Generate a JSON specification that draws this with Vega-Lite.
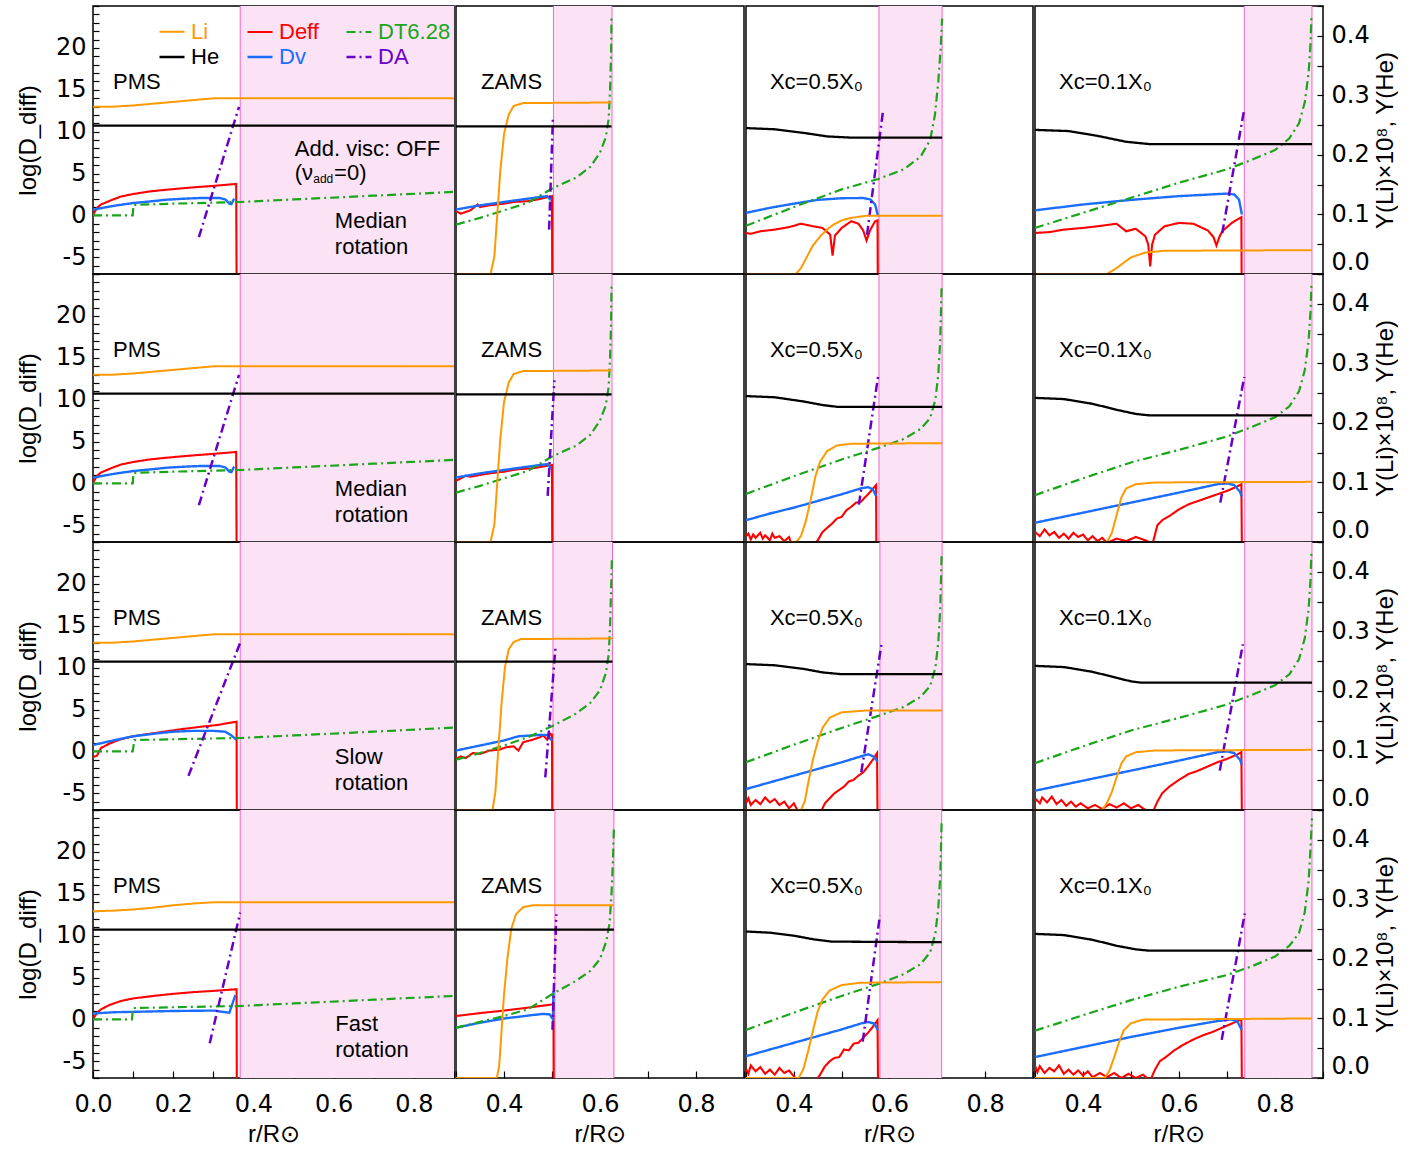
{
"$schema": "https://vega.github.io/schema/vega-lite/v6.json",
"padding": {"left": 15, "top": 4, "right": 0, "bottom": 0},
"config": {
  "font": "Liberation Sans",
  "view": {"stroke": "black", "strokeWidth": 1.5},
  "axis": {"domain": false, "grid": false, "labelFont": "DejaVu Sans", "labelFontSize": 24, "titleFontSize": 24, "titleFontWeight": "normal", "labelColor": "black", "titleColor": "black", "tickColor": "black", "tickWidth": 1.2}
},
"data": {"values": [
{"c":1,"k":1,"s":"zone","r":0.367,"r2":0.9},{"c":1,"k":1,"s":"edge","r":0.367},
{"c":1,"k":1,"s":"Li","r":0,"v":0.281},{"c":1,"k":1,"s":"Li","r":0.05,"v":0.281},{"c":1,"k":1,"s":"Li","r":0.1,"v":0.283},{"c":1,"k":1,"s":"Li","r":0.15,"v":0.286},{"c":1,"k":1,"s":"Li","r":0.2,"v":0.289},{"c":1,"k":1,"s":"Li","r":0.25,"v":0.292},{"c":1,"k":1,"s":"Li","r":0.3,"v":0.295},{"c":1,"k":1,"s":"Li","r":0.35,"v":0.295},{"c":1,"k":1,"s":"Li","r":0.9,"v":0.295},
{"c":1,"k":1,"s":"He","r":0,"v":0.249},{"c":1,"k":1,"s":"He","r":0.9,"v":0.249},
{"c":1,"k":1,"s":"Deff","r":0,"v":0.05},{"c":1,"k":1,"s":"Deff","r":0.01,"v":0.9},{"c":1,"k":1,"s":"Deff","r":0.02,"v":1.3},{"c":1,"k":1,"s":"Deff","r":0.035,"v":1.6},{"c":1,"k":1,"s":"Deff","r":0.05,"v":1.9},{"c":1,"k":1,"s":"Deff","r":0.07,"v":2.25},{"c":1,"k":1,"s":"Deff","r":0.1,"v":2.55},{"c":1,"k":1,"s":"Deff","r":0.14,"v":2.85},{"c":1,"k":1,"s":"Deff","r":0.18,"v":3.05},{"c":1,"k":1,"s":"Deff","r":0.22,"v":3.22},{"c":1,"k":1,"s":"Deff","r":0.26,"v":3.38},{"c":1,"k":1,"s":"Deff","r":0.3,"v":3.52},{"c":1,"k":1,"s":"Deff","r":0.357,"v":3.75},{"c":1,"k":1,"s":"Deff","r":0.358,"v":-8},
{"c":1,"k":1,"s":"Dv","r":0,"v":0.67},{"c":1,"k":1,"s":"Dv","r":0.03,"v":0.95},{"c":1,"k":1,"s":"Dv","r":0.06,"v":1.2},{"c":1,"k":1,"s":"Dv","r":0.1,"v":1.47},{"c":1,"k":1,"s":"Dv","r":0.15,"v":1.7},{"c":1,"k":1,"s":"Dv","r":0.183,"v":1.87},{"c":1,"k":1,"s":"Dv","r":0.23,"v":2.0},{"c":1,"k":1,"s":"Dv","r":0.266,"v":2.07},{"c":1,"k":1,"s":"Dv","r":0.316,"v":2.07},{"c":1,"k":1,"s":"Dv","r":0.33,"v":1.9},{"c":1,"k":1,"s":"Dv","r":0.34,"v":1.4},{"c":1,"k":1,"s":"Dv","r":0.345,"v":1.35},{"c":1,"k":1,"s":"Dv","r":0.352,"v":2.0},
{"c":1,"k":1,"s":"DT6.28","r":0,"v":0},{"c":1,"k":1,"s":"DT6.28","r":0.099,"v":0},{"c":1,"k":1,"s":"DT6.28","r":0.101,"v":1.25},{"c":1,"k":1,"s":"DT6.28","r":0.2,"v":1.4},{"c":1,"k":1,"s":"DT6.28","r":0.367,"v":1.6},{"c":1,"k":1,"s":"DT6.28","r":0.5,"v":1.9},{"c":1,"k":1,"s":"DT6.28","r":0.7,"v":2.35},{"c":1,"k":1,"s":"DT6.28","r":0.9,"v":2.8},
{"c":1,"k":1,"s":"DA","r":0.264,"v":-2.6},{"c":1,"k":1,"s":"DA","r":0.364,"v":12.96},
{"c":1,"k":1,"s":"lab","r":0.05,"v":15.9,"t":"PMS"},{"c":1,"k":1,"s":"lab","r":0.503,"v":7.9,"t":"Add. visc: OFF"},{"c":1,"k":1,"s":"lab","r":0.503,"v":5.1,"t":"(ν"},{"c":1,"k":1,"s":"sub","r":0.549,"v":4.4,"t":"add"},{"c":1,"k":1,"s":"lab","r":0.601,"v":5.1,"t":"=0)"},{"c":1,"k":1,"s":"lab","r":0.603,"v":-0.73,"t":"Median"},{"c":1,"k":1,"s":"lab","r":0.603,"v":-3.73,"t":"rotation"},

{"c":1,"k":2,"s":"zone","r":0.367,"r2":0.9},{"c":1,"k":2,"s":"edge","r":0.367},
{"c":1,"k":2,"s":"Li","r":0,"v":0.281},{"c":1,"k":2,"s":"Li","r":0.05,"v":0.281},{"c":1,"k":2,"s":"Li","r":0.1,"v":0.283},{"c":1,"k":2,"s":"Li","r":0.15,"v":0.286},{"c":1,"k":2,"s":"Li","r":0.2,"v":0.289},{"c":1,"k":2,"s":"Li","r":0.25,"v":0.292},{"c":1,"k":2,"s":"Li","r":0.3,"v":0.295},{"c":1,"k":2,"s":"Li","r":0.35,"v":0.295},{"c":1,"k":2,"s":"Li","r":0.9,"v":0.295},
{"c":1,"k":2,"s":"He","r":0,"v":0.249},{"c":1,"k":2,"s":"He","r":0.9,"v":0.249},
{"c":1,"k":2,"s":"Deff","r":0,"v":0.05},{"c":1,"k":2,"s":"Deff","r":0.01,"v":0.9},{"c":1,"k":2,"s":"Deff","r":0.02,"v":1.3},{"c":1,"k":2,"s":"Deff","r":0.035,"v":1.6},{"c":1,"k":2,"s":"Deff","r":0.05,"v":1.9},{"c":1,"k":2,"s":"Deff","r":0.07,"v":2.25},{"c":1,"k":2,"s":"Deff","r":0.1,"v":2.55},{"c":1,"k":2,"s":"Deff","r":0.14,"v":2.85},{"c":1,"k":2,"s":"Deff","r":0.18,"v":3.05},{"c":1,"k":2,"s":"Deff","r":0.22,"v":3.22},{"c":1,"k":2,"s":"Deff","r":0.26,"v":3.38},{"c":1,"k":2,"s":"Deff","r":0.3,"v":3.52},{"c":1,"k":2,"s":"Deff","r":0.357,"v":3.75},{"c":1,"k":2,"s":"Deff","r":0.358,"v":-8},
{"c":1,"k":2,"s":"Dv","r":0,"v":0.67},{"c":1,"k":2,"s":"Dv","r":0.03,"v":0.95},{"c":1,"k":2,"s":"Dv","r":0.06,"v":1.2},{"c":1,"k":2,"s":"Dv","r":0.1,"v":1.47},{"c":1,"k":2,"s":"Dv","r":0.15,"v":1.7},{"c":1,"k":2,"s":"Dv","r":0.183,"v":1.87},{"c":1,"k":2,"s":"Dv","r":0.23,"v":2.0},{"c":1,"k":2,"s":"Dv","r":0.266,"v":2.07},{"c":1,"k":2,"s":"Dv","r":0.316,"v":2.07},{"c":1,"k":2,"s":"Dv","r":0.33,"v":1.9},{"c":1,"k":2,"s":"Dv","r":0.34,"v":1.4},{"c":1,"k":2,"s":"Dv","r":0.345,"v":1.35},{"c":1,"k":2,"s":"Dv","r":0.352,"v":2.0},
{"c":1,"k":2,"s":"DT6.28","r":0,"v":0},{"c":1,"k":2,"s":"DT6.28","r":0.099,"v":0},{"c":1,"k":2,"s":"DT6.28","r":0.101,"v":1.25},{"c":1,"k":2,"s":"DT6.28","r":0.2,"v":1.4},{"c":1,"k":2,"s":"DT6.28","r":0.367,"v":1.6},{"c":1,"k":2,"s":"DT6.28","r":0.5,"v":1.9},{"c":1,"k":2,"s":"DT6.28","r":0.7,"v":2.35},{"c":1,"k":2,"s":"DT6.28","r":0.9,"v":2.8},
{"c":1,"k":2,"s":"DA","r":0.264,"v":-2.6},{"c":1,"k":2,"s":"DA","r":0.364,"v":12.96},
{"c":1,"k":2,"s":"lab","r":0.05,"v":15.9,"t":"PMS"},{"c":1,"k":2,"s":"lab","r":0.603,"v":-0.73,"t":"Median"},{"c":1,"k":2,"s":"lab","r":0.603,"v":-3.73,"t":"rotation"},

{"c":1,"k":3,"s":"zone","r":0.367,"r2":0.9},{"c":1,"k":3,"s":"edge","r":0.367},
{"c":1,"k":3,"s":"Li","r":0,"v":0.281},{"c":1,"k":3,"s":"Li","r":0.05,"v":0.281},{"c":1,"k":3,"s":"Li","r":0.1,"v":0.283},{"c":1,"k":3,"s":"Li","r":0.15,"v":0.286},{"c":1,"k":3,"s":"Li","r":0.2,"v":0.289},{"c":1,"k":3,"s":"Li","r":0.25,"v":0.292},{"c":1,"k":3,"s":"Li","r":0.3,"v":0.295},{"c":1,"k":3,"s":"Li","r":0.35,"v":0.295},{"c":1,"k":3,"s":"Li","r":0.9,"v":0.295},
{"c":1,"k":3,"s":"He","r":0,"v":0.249},{"c":1,"k":3,"s":"He","r":0.9,"v":0.249},
{"c":1,"k":3,"s":"Deff","r":0,"v":-0.7},{"c":1,"k":3,"s":"Deff","r":0.01,"v":-0.5},{"c":1,"k":3,"s":"Deff","r":0.02,"v":0.4},{"c":1,"k":3,"s":"Deff","r":0.04,"v":0.9},{"c":1,"k":3,"s":"Deff","r":0.06,"v":1.3},{"c":1,"k":3,"s":"Deff","r":0.09,"v":1.7},{"c":1,"k":3,"s":"Deff","r":0.12,"v":1.95},{"c":1,"k":3,"s":"Deff","r":0.17,"v":2.3},{"c":1,"k":3,"s":"Deff","r":0.22,"v":2.65},{"c":1,"k":3,"s":"Deff","r":0.27,"v":2.95},{"c":1,"k":3,"s":"Deff","r":0.31,"v":3.15},{"c":1,"k":3,"s":"Deff","r":0.358,"v":3.55},{"c":1,"k":3,"s":"Deff","r":0.3585,"v":-8},
{"c":1,"k":3,"s":"Dv","r":0,"v":0.75},{"c":1,"k":3,"s":"Dv","r":0.05,"v":1.3},{"c":1,"k":3,"s":"Dv","r":0.1,"v":1.8},{"c":1,"k":3,"s":"Dv","r":0.15,"v":2.1},{"c":1,"k":3,"s":"Dv","r":0.2,"v":2.35},{"c":1,"k":3,"s":"Dv","r":0.25,"v":2.45},{"c":1,"k":3,"s":"Dv","r":0.3,"v":2.45},{"c":1,"k":3,"s":"Dv","r":0.33,"v":2.35},{"c":1,"k":3,"s":"Dv","r":0.345,"v":1.9},{"c":1,"k":3,"s":"Dv","r":0.357,"v":1.4},
{"c":1,"k":3,"s":"DT6.28","r":0,"v":0},{"c":1,"k":3,"s":"DT6.28","r":0.099,"v":0},{"c":1,"k":3,"s":"DT6.28","r":0.103,"v":1.35},{"c":1,"k":3,"s":"DT6.28","r":0.2,"v":1.45},{"c":1,"k":3,"s":"DT6.28","r":0.367,"v":1.6},{"c":1,"k":3,"s":"DT6.28","r":0.5,"v":1.9},{"c":1,"k":3,"s":"DT6.28","r":0.7,"v":2.35},{"c":1,"k":3,"s":"DT6.28","r":0.9,"v":2.85},
{"c":1,"k":3,"s":"DA","r":0.238,"v":-2.93},{"c":1,"k":3,"s":"DA","r":0.368,"v":13.1},
{"c":1,"k":3,"s":"lab","r":0.05,"v":15.9,"t":"PMS"},{"c":1,"k":3,"s":"lab","r":0.603,"v":-0.73,"t":"Slow"},{"c":1,"k":3,"s":"lab","r":0.603,"v":-3.73,"t":"rotation"},

{"c":1,"k":4,"s":"zone","r":0.367,"r2":0.9},{"c":1,"k":4,"s":"edge","r":0.367},
{"c":1,"k":4,"s":"Li","r":0,"v":0.28},{"c":1,"k":4,"s":"Li","r":0.05,"v":0.281},{"c":1,"k":4,"s":"Li","r":0.1,"v":0.283},{"c":1,"k":4,"s":"Li","r":0.15,"v":0.286},{"c":1,"k":4,"s":"Li","r":0.2,"v":0.29},{"c":1,"k":4,"s":"Li","r":0.25,"v":0.293},{"c":1,"k":4,"s":"Li","r":0.3,"v":0.295},{"c":1,"k":4,"s":"Li","r":0.9,"v":0.295},
{"c":1,"k":4,"s":"He","r":0,"v":0.249},{"c":1,"k":4,"s":"He","r":0.9,"v":0.249},
{"c":1,"k":4,"s":"Deff","r":0,"v":0},{"c":1,"k":4,"s":"Deff","r":0.01,"v":0.8},{"c":1,"k":4,"s":"Deff","r":0.02,"v":1.2},{"c":1,"k":4,"s":"Deff","r":0.04,"v":1.7},{"c":1,"k":4,"s":"Deff","r":0.07,"v":2.2},{"c":1,"k":4,"s":"Deff","r":0.1,"v":2.5},{"c":1,"k":4,"s":"Deff","r":0.15,"v":2.8},{"c":1,"k":4,"s":"Deff","r":0.2,"v":3.05},{"c":1,"k":4,"s":"Deff","r":0.25,"v":3.25},{"c":1,"k":4,"s":"Deff","r":0.3,"v":3.4},{"c":1,"k":4,"s":"Deff","r":0.358,"v":3.6},{"c":1,"k":4,"s":"Deff","r":0.3585,"v":-8},
{"c":1,"k":4,"s":"Dv","r":0,"v":0.7},{"c":1,"k":4,"s":"Dv","r":0.05,"v":0.85},{"c":1,"k":4,"s":"Dv","r":0.1,"v":0.9},{"c":1,"k":4,"s":"Dv","r":0.2,"v":1.0},{"c":1,"k":4,"s":"Dv","r":0.3,"v":1.05},{"c":1,"k":4,"s":"Dv","r":0.34,"v":0.8},{"c":1,"k":4,"s":"Dv","r":0.355,"v":2.9},
{"c":1,"k":4,"s":"DT6.28","r":0,"v":0},{"c":1,"k":4,"s":"DT6.28","r":0.097,"v":0},{"c":1,"k":4,"s":"DT6.28","r":0.1,"v":1.35},{"c":1,"k":4,"s":"DT6.28","r":0.2,"v":1.45},{"c":1,"k":4,"s":"DT6.28","r":0.367,"v":1.6},{"c":1,"k":4,"s":"DT6.28","r":0.5,"v":1.9},{"c":1,"k":4,"s":"DT6.28","r":0.7,"v":2.35},{"c":1,"k":4,"s":"DT6.28","r":0.9,"v":2.8},
{"c":1,"k":4,"s":"DA","r":0.291,"v":-2.85},{"c":1,"k":4,"s":"DA","r":0.367,"v":12.75},
{"c":1,"k":4,"s":"lab","r":0.05,"v":15.9,"t":"PMS"},{"c":1,"k":4,"s":"lab","r":0.604,"v":-0.6,"t":"Fast"},{"c":1,"k":4,"s":"lab","r":0.604,"v":-3.65,"t":"rotation"},

{"c":2,"k":1,"s":"zone","r":0.503,"r2":0.625},{"c":2,"k":1,"s":"edge","r":0.503},{"c":2,"k":1,"s":"edge","r":0.625},
{"c":2,"k":1,"s":"Li","r":0.3,"v":0},{"c":2,"k":1,"s":"Li","r":0.372,"v":0},{"c":2,"k":1,"s":"Li","r":0.38,"v":0.03},{"c":2,"k":1,"s":"Li","r":0.386,"v":0.1},{"c":2,"k":1,"s":"Li","r":0.392,"v":0.17},{"c":2,"k":1,"s":"Li","r":0.4,"v":0.235},{"c":2,"k":1,"s":"Li","r":0.41,"v":0.268},{"c":2,"k":1,"s":"Li","r":0.42,"v":0.282},{"c":2,"k":1,"s":"Li","r":0.44,"v":0.287},{"c":2,"k":1,"s":"Li","r":0.624,"v":0.288},
{"c":2,"k":1,"s":"He","r":0.3,"v":0.248},{"c":2,"k":1,"s":"He","r":0.624,"v":0.248},
{"c":2,"k":1,"s":"Deff","r":0.3,"v":0.5},{"c":2,"k":1,"s":"Deff","r":0.31,"v":0.2},{"c":2,"k":1,"s":"Deff","r":0.33,"v":0.6},{"c":2,"k":1,"s":"Deff","r":0.345,"v":1.3},{"c":2,"k":1,"s":"Deff","r":0.35,"v":1.0},{"c":2,"k":1,"s":"Deff","r":0.37,"v":1.2},{"c":2,"k":1,"s":"Deff","r":0.4,"v":1.4},{"c":2,"k":1,"s":"Deff","r":0.42,"v":1.6},{"c":2,"k":1,"s":"Deff","r":0.45,"v":1.7},{"c":2,"k":1,"s":"Deff","r":0.47,"v":1.9},{"c":2,"k":1,"s":"Deff","r":0.5,"v":2.3},{"c":2,"k":1,"s":"Deff","r":0.5005,"v":-8},
{"c":2,"k":1,"s":"Dv","r":0.3,"v":0.7},{"c":2,"k":1,"s":"Dv","r":0.35,"v":1.2},{"c":2,"k":1,"s":"Dv","r":0.4,"v":1.6},{"c":2,"k":1,"s":"Dv","r":0.45,"v":2.0},{"c":2,"k":1,"s":"Dv","r":0.49,"v":2.3},{"c":2,"k":1,"s":"Dv","r":0.498,"v":1.8},
{"c":2,"k":1,"s":"DT6.28","r":0.3,"v":-1.1},{"c":2,"k":1,"s":"DT6.28","r":0.35,"v":-0.3},{"c":2,"k":1,"s":"DT6.28","r":0.4,"v":0.6},{"c":2,"k":1,"s":"DT6.28","r":0.45,"v":1.5},{"c":2,"k":1,"s":"DT6.28","r":0.5,"v":3.2},{"c":2,"k":1,"s":"DT6.28","r":0.55,"v":4.5},{"c":2,"k":1,"s":"DT6.28","r":0.58,"v":5.8},{"c":2,"k":1,"s":"DT6.28","r":0.6,"v":7.5},{"c":2,"k":1,"s":"DT6.28","r":0.612,"v":9.3},{"c":2,"k":1,"s":"DT6.28","r":0.618,"v":11.5},{"c":2,"k":1,"s":"DT6.28","r":0.621,"v":15},{"c":2,"k":1,"s":"DT6.28","r":0.623,"v":19},{"c":2,"k":1,"s":"DT6.28","r":0.624,"v":23.5},
{"c":2,"k":1,"s":"DA","r":0.494,"v":-1.7},{"c":2,"k":1,"s":"DA","r":0.502,"v":11.8},
{"c":2,"k":1,"s":"lab","r":0.352,"v":15.9,"t":"ZAMS"},

{"c":2,"k":2,"s":"zone","r":0.503,"r2":0.625},{"c":2,"k":2,"s":"edge","r":0.503},{"c":2,"k":2,"s":"edge","r":0.625},
{"c":2,"k":2,"s":"Li","r":0.3,"v":0},{"c":2,"k":2,"s":"Li","r":0.372,"v":0},{"c":2,"k":2,"s":"Li","r":0.38,"v":0.03},{"c":2,"k":2,"s":"Li","r":0.386,"v":0.1},{"c":2,"k":2,"s":"Li","r":0.392,"v":0.17},{"c":2,"k":2,"s":"Li","r":0.4,"v":0.235},{"c":2,"k":2,"s":"Li","r":0.41,"v":0.268},{"c":2,"k":2,"s":"Li","r":0.42,"v":0.282},{"c":2,"k":2,"s":"Li","r":0.44,"v":0.287},{"c":2,"k":2,"s":"Li","r":0.624,"v":0.288},
{"c":2,"k":2,"s":"He","r":0.3,"v":0.248},{"c":2,"k":2,"s":"He","r":0.624,"v":0.248},
{"c":2,"k":2,"s":"Deff","r":0.3,"v":0.3},{"c":2,"k":2,"s":"Deff","r":0.31,"v":0.6},{"c":2,"k":2,"s":"Deff","r":0.32,"v":0.9},{"c":2,"k":2,"s":"Deff","r":0.33,"v":0.8},{"c":2,"k":2,"s":"Deff","r":0.35,"v":1.0},{"c":2,"k":2,"s":"Deff","r":0.37,"v":1.2},{"c":2,"k":2,"s":"Deff","r":0.4,"v":1.4},{"c":2,"k":2,"s":"Deff","r":0.43,"v":1.7},{"c":2,"k":2,"s":"Deff","r":0.46,"v":1.8},{"c":2,"k":2,"s":"Deff","r":0.48,"v":2.0},{"c":2,"k":2,"s":"Deff","r":0.5,"v":2.2},{"c":2,"k":2,"s":"Deff","r":0.5005,"v":-8},
{"c":2,"k":2,"s":"Dv","r":0.3,"v":0.7},{"c":2,"k":2,"s":"Dv","r":0.35,"v":1.2},{"c":2,"k":2,"s":"Dv","r":0.4,"v":1.6},{"c":2,"k":2,"s":"Dv","r":0.45,"v":2.0},{"c":2,"k":2,"s":"Dv","r":0.49,"v":2.3},{"c":2,"k":2,"s":"Dv","r":0.498,"v":1.8},
{"c":2,"k":2,"s":"DT6.28","r":0.3,"v":-1.1},{"c":2,"k":2,"s":"DT6.28","r":0.35,"v":-0.3},{"c":2,"k":2,"s":"DT6.28","r":0.4,"v":0.6},{"c":2,"k":2,"s":"DT6.28","r":0.45,"v":1.5},{"c":2,"k":2,"s":"DT6.28","r":0.5,"v":3.2},{"c":2,"k":2,"s":"DT6.28","r":0.55,"v":4.5},{"c":2,"k":2,"s":"DT6.28","r":0.58,"v":5.8},{"c":2,"k":2,"s":"DT6.28","r":0.6,"v":7.5},{"c":2,"k":2,"s":"DT6.28","r":0.612,"v":9.3},{"c":2,"k":2,"s":"DT6.28","r":0.618,"v":11.5},{"c":2,"k":2,"s":"DT6.28","r":0.621,"v":15},{"c":2,"k":2,"s":"DT6.28","r":0.623,"v":19},{"c":2,"k":2,"s":"DT6.28","r":0.624,"v":23.5},
{"c":2,"k":2,"s":"DA","r":0.491,"v":-1.5},{"c":2,"k":2,"s":"DA","r":0.505,"v":12.3},
{"c":2,"k":2,"s":"lab","r":0.352,"v":15.9,"t":"ZAMS"},

{"c":2,"k":3,"s":"zone","r":0.502,"r2":0.626},{"c":2,"k":3,"s":"edge","r":0.502},{"c":2,"k":3,"s":"edge","r":0.626},
{"c":2,"k":3,"s":"Li","r":0.3,"v":0},{"c":2,"k":3,"s":"Li","r":0.376,"v":0},{"c":2,"k":3,"s":"Li","r":0.382,"v":0.03},{"c":2,"k":3,"s":"Li","r":0.388,"v":0.1},{"c":2,"k":3,"s":"Li","r":0.395,"v":0.18},{"c":2,"k":3,"s":"Li","r":0.402,"v":0.24},{"c":2,"k":3,"s":"Li","r":0.41,"v":0.27},{"c":2,"k":3,"s":"Li","r":0.42,"v":0.282},{"c":2,"k":3,"s":"Li","r":0.435,"v":0.287},{"c":2,"k":3,"s":"Li","r":0.626,"v":0.288},
{"c":2,"k":3,"s":"He","r":0.3,"v":0.249},{"c":2,"k":3,"s":"He","r":0.626,"v":0.249},
{"c":2,"k":3,"s":"Deff","r":0.3,"v":-0.9},{"c":2,"k":3,"s":"Deff","r":0.31,"v":-0.6},{"c":2,"k":3,"s":"Deff","r":0.32,"v":-0.8},{"c":2,"k":3,"s":"Deff","r":0.335,"v":-0.2},{"c":2,"k":3,"s":"Deff","r":0.35,"v":-0.3},{"c":2,"k":3,"s":"Deff","r":0.37,"v":0.1},{"c":2,"k":3,"s":"Deff","r":0.39,"v":0.2},{"c":2,"k":3,"s":"Deff","r":0.405,"v":0.5},{"c":2,"k":3,"s":"Deff","r":0.42,"v":0.6},{"c":2,"k":3,"s":"Deff","r":0.43,"v":0.1},{"c":2,"k":3,"s":"Deff","r":0.44,"v":1.1},{"c":2,"k":3,"s":"Deff","r":0.46,"v":1.4},{"c":2,"k":3,"s":"Deff","r":0.475,"v":1.7},{"c":2,"k":3,"s":"Deff","r":0.482,"v":1.9},{"c":2,"k":3,"s":"Deff","r":0.49,"v":1.4},{"c":2,"k":3,"s":"Deff","r":0.497,"v":2.1},{"c":2,"k":3,"s":"Deff","r":0.5,"v":2.0},{"c":2,"k":3,"s":"Deff","r":0.5005,"v":-8},
{"c":2,"k":3,"s":"Dv","r":0.3,"v":0.1},{"c":2,"k":3,"s":"Dv","r":0.35,"v":0.7},{"c":2,"k":3,"s":"Dv","r":0.4,"v":1.3},{"c":2,"k":3,"s":"Dv","r":0.43,"v":1.8},{"c":2,"k":3,"s":"Dv","r":0.47,"v":1.95},{"c":2,"k":3,"s":"Dv","r":0.49,"v":1.95},{"c":2,"k":3,"s":"Dv","r":0.5,"v":1.3},
{"c":2,"k":3,"s":"DT6.28","r":0.3,"v":-1.0},{"c":2,"k":3,"s":"DT6.28","r":0.35,"v":-0.2},{"c":2,"k":3,"s":"DT6.28","r":0.4,"v":0.7},{"c":2,"k":3,"s":"DT6.28","r":0.45,"v":1.7},{"c":2,"k":3,"s":"DT6.28","r":0.5,"v":3.0},{"c":2,"k":3,"s":"DT6.28","r":0.55,"v":4.5},{"c":2,"k":3,"s":"DT6.28","r":0.58,"v":5.8},{"c":2,"k":3,"s":"DT6.28","r":0.6,"v":7.3},{"c":2,"k":3,"s":"DT6.28","r":0.612,"v":9.3},{"c":2,"k":3,"s":"DT6.28","r":0.618,"v":11.5},{"c":2,"k":3,"s":"DT6.28","r":0.621,"v":15},{"c":2,"k":3,"s":"DT6.28","r":0.623,"v":19},{"c":2,"k":3,"s":"DT6.28","r":0.625,"v":23.3},
{"c":2,"k":3,"s":"DA","r":0.486,"v":-3.1},{"c":2,"k":3,"s":"DA","r":0.507,"v":12.3},
{"c":2,"k":3,"s":"lab","r":0.352,"v":15.9,"t":"ZAMS"},

{"c":2,"k":4,"s":"zone","r":0.506,"r2":0.629},{"c":2,"k":4,"s":"edge","r":0.506},{"c":2,"k":4,"s":"edge","r":0.629},
{"c":2,"k":4,"s":"Li","r":0.3,"v":0},{"c":2,"k":4,"s":"Li","r":0.385,"v":0},{"c":2,"k":4,"s":"Li","r":0.39,"v":0.02},{"c":2,"k":4,"s":"Li","r":0.395,"v":0.08},{"c":2,"k":4,"s":"Li","r":0.4,"v":0.14},{"c":2,"k":4,"s":"Li","r":0.407,"v":0.2},{"c":2,"k":4,"s":"Li","r":0.415,"v":0.25},{"c":2,"k":4,"s":"Li","r":0.425,"v":0.275},{"c":2,"k":4,"s":"Li","r":0.44,"v":0.287},{"c":2,"k":4,"s":"Li","r":0.46,"v":0.29},{"c":2,"k":4,"s":"Li","r":0.629,"v":0.29},
{"c":2,"k":4,"s":"He","r":0.3,"v":0.249},{"c":2,"k":4,"s":"He","r":0.629,"v":0.249},
{"c":2,"k":4,"s":"Deff","r":0.3,"v":0.4},{"c":2,"k":4,"s":"Deff","r":0.35,"v":0.75},{"c":2,"k":4,"s":"Deff","r":0.4,"v":1.05},{"c":2,"k":4,"s":"Deff","r":0.45,"v":1.4},{"c":2,"k":4,"s":"Deff","r":0.503,"v":1.8},{"c":2,"k":4,"s":"Deff","r":0.5035,"v":-8},
{"c":2,"k":4,"s":"Dv","r":0.3,"v":-1.0},{"c":2,"k":4,"s":"Dv","r":0.35,"v":-0.4},{"c":2,"k":4,"s":"Dv","r":0.4,"v":0.1},{"c":2,"k":4,"s":"Dv","r":0.45,"v":0.45},{"c":2,"k":4,"s":"Dv","r":0.48,"v":0.65},{"c":2,"k":4,"s":"Dv","r":0.495,"v":0.6},{"c":2,"k":4,"s":"Dv","r":0.502,"v":0.0},{"c":2,"k":4,"s":"Dv","r":0.503,"v":3.4},
{"c":2,"k":4,"s":"DT6.28","r":0.3,"v":-1.0},{"c":2,"k":4,"s":"DT6.28","r":0.35,"v":-0.3},{"c":2,"k":4,"s":"DT6.28","r":0.4,"v":0.4},{"c":2,"k":4,"s":"DT6.28","r":0.45,"v":1.2},{"c":2,"k":4,"s":"DT6.28","r":0.5,"v":3.0},{"c":2,"k":4,"s":"DT6.28","r":0.55,"v":4.6},{"c":2,"k":4,"s":"DT6.28","r":0.58,"v":5.8},{"c":2,"k":4,"s":"DT6.28","r":0.6,"v":7.2},{"c":2,"k":4,"s":"DT6.28","r":0.613,"v":9.3},{"c":2,"k":4,"s":"DT6.28","r":0.62,"v":11.5},{"c":2,"k":4,"s":"DT6.28","r":0.624,"v":15},{"c":2,"k":4,"s":"DT6.28","r":0.627,"v":19},{"c":2,"k":4,"s":"DT6.28","r":0.629,"v":23},
{"c":2,"k":4,"s":"DA","r":0.501,"v":-1.25},{"c":2,"k":4,"s":"DA","r":0.509,"v":12.55},
{"c":2,"k":4,"s":"lab","r":0.352,"v":15.9,"t":"ZAMS"},

{"c":3,"k":1,"s":"zone","r":0.578,"r2":0.71},{"c":3,"k":1,"s":"edge","r":0.578},{"c":3,"k":1,"s":"edge","r":0.71},
{"c":3,"k":1,"s":"He","r":0.3,"v":0.245},{"c":3,"k":1,"s":"He","r":0.36,"v":0.243},{"c":3,"k":1,"s":"He","r":0.42,"v":0.237},{"c":3,"k":1,"s":"He","r":0.47,"v":0.231},{"c":3,"k":1,"s":"He","r":0.52,"v":0.229},{"c":3,"k":1,"s":"He","r":0.71,"v":0.229},
{"c":3,"k":1,"s":"Li","r":0.3,"v":0},{"c":3,"k":1,"s":"Li","r":0.404,"v":0},{"c":3,"k":1,"s":"Li","r":0.415,"v":0.01},{"c":3,"k":1,"s":"Li","r":0.428,"v":0.03},{"c":3,"k":1,"s":"Li","r":0.44,"v":0.048},{"c":3,"k":1,"s":"Li","r":0.456,"v":0.064},{"c":3,"k":1,"s":"Li","r":0.47,"v":0.075},{"c":3,"k":1,"s":"Li","r":0.483,"v":0.083},{"c":3,"k":1,"s":"Li","r":0.5,"v":0.09},{"c":3,"k":1,"s":"Li","r":0.518,"v":0.094},{"c":3,"k":1,"s":"Li","r":0.553,"v":0.098},{"c":3,"k":1,"s":"Li","r":0.71,"v":0.098},
{"c":3,"k":1,"s":"Deff","r":0.3,"v":-2.1},{"c":3,"k":1,"s":"Deff","r":0.31,"v":-2.2},{"c":3,"k":1,"s":"Deff","r":0.33,"v":-1.9},{"c":3,"k":1,"s":"Deff","r":0.36,"v":-1.7},{"c":3,"k":1,"s":"Deff","r":0.39,"v":-1.4},{"c":3,"k":1,"s":"Deff","r":0.415,"v":-1.0},{"c":3,"k":1,"s":"Deff","r":0.44,"v":-1.3},{"c":3,"k":1,"s":"Deff","r":0.46,"v":-1.5},{"c":3,"k":1,"s":"Deff","r":0.476,"v":-2.3},{"c":3,"k":1,"s":"Deff","r":0.481,"v":-4.8},{"c":3,"k":1,"s":"Deff","r":0.486,"v":-2.4},{"c":3,"k":1,"s":"Deff","r":0.5,"v":-1.5},{"c":3,"k":1,"s":"Deff","r":0.52,"v":-0.7},{"c":3,"k":1,"s":"Deff","r":0.535,"v":-1.0},{"c":3,"k":1,"s":"Deff","r":0.545,"v":-1.8},{"c":3,"k":1,"s":"Deff","r":0.552,"v":-3.0},{"c":3,"k":1,"s":"Deff","r":0.56,"v":-1.7},{"c":3,"k":1,"s":"Deff","r":0.57,"v":-0.7},{"c":3,"k":1,"s":"Deff","r":0.575,"v":-0.6},{"c":3,"k":1,"s":"Deff","r":0.5755,"v":-8},
{"c":3,"k":1,"s":"Dv","r":0.3,"v":0.3},{"c":3,"k":1,"s":"Dv","r":0.35,"v":0.9},{"c":3,"k":1,"s":"Dv","r":0.4,"v":1.4},{"c":3,"k":1,"s":"Dv","r":0.45,"v":1.85},{"c":3,"k":1,"s":"Dv","r":0.5,"v":2.05},{"c":3,"k":1,"s":"Dv","r":0.545,"v":2.07},{"c":3,"k":1,"s":"Dv","r":0.56,"v":1.9},{"c":3,"k":1,"s":"Dv","r":0.57,"v":1.3},{"c":3,"k":1,"s":"Dv","r":0.576,"v":-0.1},
{"c":3,"k":1,"s":"DT6.28","r":0.3,"v":-1.25},{"c":3,"k":1,"s":"DT6.28","r":0.4,"v":1.0},{"c":3,"k":1,"s":"DT6.28","r":0.5,"v":3.1},{"c":3,"k":1,"s":"DT6.28","r":0.577,"v":4.35},{"c":3,"k":1,"s":"DT6.28","r":0.63,"v":5.5},{"c":3,"k":1,"s":"DT6.28","r":0.665,"v":7},{"c":3,"k":1,"s":"DT6.28","r":0.685,"v":9},{"c":3,"k":1,"s":"DT6.28","r":0.695,"v":12},{"c":3,"k":1,"s":"DT6.28","r":0.702,"v":16},{"c":3,"k":1,"s":"DT6.28","r":0.707,"v":20},{"c":3,"k":1,"s":"DT6.28","r":0.71,"v":23.5},
{"c":3,"k":1,"s":"DA","r":0.553,"v":-2.33},{"c":3,"k":1,"s":"DA","r":0.587,"v":12.7},
{"c":3,"k":1,"s":"lab","r":0.35,"v":15.9,"t":"Xᴄ=0.5X₀"},

{"c":3,"k":2,"s":"zone","r":0.578,"r2":0.71},{"c":3,"k":2,"s":"edge","r":0.578},{"c":3,"k":2,"s":"edge","r":0.71},
{"c":3,"k":2,"s":"He","r":0.3,"v":0.245},{"c":3,"k":2,"s":"He","r":0.36,"v":0.243},{"c":3,"k":2,"s":"He","r":0.42,"v":0.236},{"c":3,"k":2,"s":"He","r":0.46,"v":0.23},{"c":3,"k":2,"s":"He","r":0.49,"v":0.227},{"c":3,"k":2,"s":"He","r":0.71,"v":0.227},
{"c":3,"k":2,"s":"Li","r":0.3,"v":0},{"c":3,"k":2,"s":"Li","r":0.405,"v":0},{"c":3,"k":2,"s":"Li","r":0.415,"v":0.01},{"c":3,"k":2,"s":"Li","r":0.425,"v":0.035},{"c":3,"k":2,"s":"Li","r":0.435,"v":0.07},{"c":3,"k":2,"s":"Li","r":0.445,"v":0.11},{"c":3,"k":2,"s":"Li","r":0.455,"v":0.135},{"c":3,"k":2,"s":"Li","r":0.47,"v":0.153},{"c":3,"k":2,"s":"Li","r":0.49,"v":0.162},{"c":3,"k":2,"s":"Li","r":0.52,"v":0.165},{"c":3,"k":2,"s":"Li","r":0.71,"v":0.166},
{"c":3,"k":2,"s":"Deff","r":0.3,"v":-6.3},{"c":3,"k":2,"s":"Deff","r":0.305,"v":-6.0},{"c":3,"k":2,"s":"Deff","r":0.31,"v":-6.7},{"c":3,"k":2,"s":"Deff","r":0.315,"v":-6.1},{"c":3,"k":2,"s":"Deff","r":0.32,"v":-6.5},{"c":3,"k":2,"s":"Deff","r":0.33,"v":-5.9},{"c":3,"k":2,"s":"Deff","r":0.335,"v":-6.6},{"c":3,"k":2,"s":"Deff","r":0.34,"v":-6.2},{"c":3,"k":2,"s":"Deff","r":0.35,"v":-6.8},{"c":3,"k":2,"s":"Deff","r":0.355,"v":-6.0},{"c":3,"k":2,"s":"Deff","r":0.36,"v":-6.5},{"c":3,"k":2,"s":"Deff","r":0.37,"v":-6.3},{"c":3,"k":2,"s":"Deff","r":0.38,"v":-6.9},{"c":3,"k":2,"s":"Deff","r":0.39,"v":-6.4},{"c":3,"k":2,"s":"Deff","r":0.395,"v":-7.3},{"c":3,"k":2,"s":"Deff","r":0.44,"v":-7.5},{"c":3,"k":2,"s":"Deff","r":0.45,"v":-6.8},{"c":3,"k":2,"s":"Deff","r":0.46,"v":-5.8},{"c":3,"k":2,"s":"Deff","r":0.47,"v":-5.3},{"c":3,"k":2,"s":"Deff","r":0.48,"v":-4.8},{"c":3,"k":2,"s":"Deff","r":0.49,"v":-4.2},{"c":3,"k":2,"s":"Deff","r":0.5,"v":-4.0},{"c":3,"k":2,"s":"Deff","r":0.51,"v":-3.2},{"c":3,"k":2,"s":"Deff","r":0.52,"v":-2.8},{"c":3,"k":2,"s":"Deff","r":0.53,"v":-2.3},{"c":3,"k":2,"s":"Deff","r":0.54,"v":-2.2},{"c":3,"k":2,"s":"Deff","r":0.55,"v":-1.6},{"c":3,"k":2,"s":"Deff","r":0.56,"v":-1.0},{"c":3,"k":2,"s":"Deff","r":0.572,"v":-0.2},{"c":3,"k":2,"s":"Deff","r":0.5725,"v":-8},
{"c":3,"k":2,"s":"Dv","r":0.3,"v":-4.4},{"c":3,"k":2,"s":"Dv","r":0.35,"v":-3.6},{"c":3,"k":2,"s":"Dv","r":0.4,"v":-2.9},{"c":3,"k":2,"s":"Dv","r":0.45,"v":-2.1},{"c":3,"k":2,"s":"Dv","r":0.5,"v":-1.3},{"c":3,"k":2,"s":"Dv","r":0.54,"v":-0.6},{"c":3,"k":2,"s":"Dv","r":0.555,"v":-0.45},{"c":3,"k":2,"s":"Dv","r":0.565,"v":-0.7},{"c":3,"k":2,"s":"Dv","r":0.572,"v":-1.5},
{"c":3,"k":2,"s":"DT6.28","r":0.3,"v":-1.25},{"c":3,"k":2,"s":"DT6.28","r":0.4,"v":0.85},{"c":3,"k":2,"s":"DT6.28","r":0.5,"v":2.85},{"c":3,"k":2,"s":"DT6.28","r":0.58,"v":4.3},{"c":3,"k":2,"s":"DT6.28","r":0.63,"v":5.3},{"c":3,"k":2,"s":"DT6.28","r":0.665,"v":6.5},{"c":3,"k":2,"s":"DT6.28","r":0.685,"v":7.8},{"c":3,"k":2,"s":"DT6.28","r":0.696,"v":10},{"c":3,"k":2,"s":"DT6.28","r":0.702,"v":13},{"c":3,"k":2,"s":"DT6.28","r":0.706,"v":17},{"c":3,"k":2,"s":"DT6.28","r":0.709,"v":23.5},
{"c":3,"k":2,"s":"DA","r":0.536,"v":-2.53},{"c":3,"k":2,"s":"DA","r":0.576,"v":12.7},
{"c":3,"k":2,"s":"lab","r":0.35,"v":15.9,"t":"Xᴄ=0.5X₀"},

{"c":3,"k":3,"s":"zone","r":0.58,"r2":0.71},{"c":3,"k":3,"s":"edge","r":0.58},{"c":3,"k":3,"s":"edge","r":0.71},
{"c":3,"k":3,"s":"He","r":0.3,"v":0.245},{"c":3,"k":3,"s":"He","r":0.36,"v":0.243},{"c":3,"k":3,"s":"He","r":0.42,"v":0.237},{"c":3,"k":3,"s":"He","r":0.46,"v":0.231},{"c":3,"k":3,"s":"He","r":0.5,"v":0.228},{"c":3,"k":3,"s":"He","r":0.71,"v":0.228},
{"c":3,"k":3,"s":"Li","r":0.3,"v":0},{"c":3,"k":3,"s":"Li","r":0.415,"v":0},{"c":3,"k":3,"s":"Li","r":0.423,"v":0.015},{"c":3,"k":3,"s":"Li","r":0.43,"v":0.045},{"c":3,"k":3,"s":"Li","r":0.44,"v":0.085},{"c":3,"k":3,"s":"Li","r":0.45,"v":0.115},{"c":3,"k":3,"s":"Li","r":0.46,"v":0.138},{"c":3,"k":3,"s":"Li","r":0.475,"v":0.155},{"c":3,"k":3,"s":"Li","r":0.5,"v":0.164},{"c":3,"k":3,"s":"Li","r":0.55,"v":0.167},{"c":3,"k":3,"s":"Li","r":0.71,"v":0.167},
{"c":3,"k":3,"s":"Deff","r":0.3,"v":-6.2},{"c":3,"k":3,"s":"Deff","r":0.305,"v":-5.6},{"c":3,"k":3,"s":"Deff","r":0.31,"v":-6.4},{"c":3,"k":3,"s":"Deff","r":0.32,"v":-5.8},{"c":3,"k":3,"s":"Deff","r":0.33,"v":-6.3},{"c":3,"k":3,"s":"Deff","r":0.34,"v":-5.5},{"c":3,"k":3,"s":"Deff","r":0.35,"v":-6.1},{"c":3,"k":3,"s":"Deff","r":0.36,"v":-5.7},{"c":3,"k":3,"s":"Deff","r":0.37,"v":-6.4},{"c":3,"k":3,"s":"Deff","r":0.38,"v":-6.0},{"c":3,"k":3,"s":"Deff","r":0.39,"v":-6.8},{"c":3,"k":3,"s":"Deff","r":0.4,"v":-6.2},{"c":3,"k":3,"s":"Deff","r":0.41,"v":-7.3},{"c":3,"k":3,"s":"Deff","r":0.455,"v":-7.4},{"c":3,"k":3,"s":"Deff","r":0.465,"v":-6.2},{"c":3,"k":3,"s":"Deff","r":0.475,"v":-5.6},{"c":3,"k":3,"s":"Deff","r":0.485,"v":-5.0},{"c":3,"k":3,"s":"Deff","r":0.495,"v":-4.6},{"c":3,"k":3,"s":"Deff","r":0.505,"v":-4.2},{"c":3,"k":3,"s":"Deff","r":0.515,"v":-3.6},{"c":3,"k":3,"s":"Deff","r":0.525,"v":-3.4},{"c":3,"k":3,"s":"Deff","r":0.535,"v":-2.9},{"c":3,"k":3,"s":"Deff","r":0.545,"v":-2.5},{"c":3,"k":3,"s":"Deff","r":0.555,"v":-1.8},{"c":3,"k":3,"s":"Deff","r":0.565,"v":-1.0},{"c":3,"k":3,"s":"Deff","r":0.574,"v":-0.2},{"c":3,"k":3,"s":"Deff","r":0.575,"v":-8},
{"c":3,"k":3,"s":"Dv","r":0.3,"v":-4.5},{"c":3,"k":3,"s":"Dv","r":0.35,"v":-3.7},{"c":3,"k":3,"s":"Dv","r":0.4,"v":-2.9},{"c":3,"k":3,"s":"Dv","r":0.45,"v":-2.1},{"c":3,"k":3,"s":"Dv","r":0.5,"v":-1.3},{"c":3,"k":3,"s":"Dv","r":0.54,"v":-0.6},{"c":3,"k":3,"s":"Dv","r":0.556,"v":-0.35},{"c":3,"k":3,"s":"Dv","r":0.566,"v":-0.6},{"c":3,"k":3,"s":"Dv","r":0.575,"v":-1.2},
{"c":3,"k":3,"s":"DT6.28","r":0.3,"v":-1.3},{"c":3,"k":3,"s":"DT6.28","r":0.4,"v":0.8},{"c":3,"k":3,"s":"DT6.28","r":0.5,"v":2.8},{"c":3,"k":3,"s":"DT6.28","r":0.58,"v":4.3},{"c":3,"k":3,"s":"DT6.28","r":0.63,"v":5.3},{"c":3,"k":3,"s":"DT6.28","r":0.665,"v":6.5},{"c":3,"k":3,"s":"DT6.28","r":0.685,"v":7.8},{"c":3,"k":3,"s":"DT6.28","r":0.696,"v":10},{"c":3,"k":3,"s":"DT6.28","r":0.702,"v":13},{"c":3,"k":3,"s":"DT6.28","r":0.706,"v":17},{"c":3,"k":3,"s":"DT6.28","r":0.709,"v":23.5},
{"c":3,"k":3,"s":"DA","r":0.541,"v":-2.5},{"c":3,"k":3,"s":"DA","r":0.583,"v":12.7},
{"c":3,"k":3,"s":"lab","r":0.35,"v":15.9,"t":"Xᴄ=0.5X₀"},

{"c":3,"k":4,"s":"zone","r":0.58,"r2":0.709},{"c":3,"k":4,"s":"edge","r":0.58},{"c":3,"k":4,"s":"edge","r":0.709},
{"c":3,"k":4,"s":"He","r":0.3,"v":0.246},{"c":3,"k":4,"s":"He","r":0.35,"v":0.244},{"c":3,"k":4,"s":"He","r":0.4,"v":0.239},{"c":3,"k":4,"s":"He","r":0.44,"v":0.233},{"c":3,"k":4,"s":"He","r":0.48,"v":0.229},{"c":3,"k":4,"s":"He","r":0.709,"v":0.228},
{"c":3,"k":4,"s":"Li","r":0.3,"v":0},{"c":3,"k":4,"s":"Li","r":0.41,"v":0},{"c":3,"k":4,"s":"Li","r":0.42,"v":0.015},{"c":3,"k":4,"s":"Li","r":0.43,"v":0.045},{"c":3,"k":4,"s":"Li","r":0.44,"v":0.08},{"c":3,"k":4,"s":"Li","r":0.45,"v":0.112},{"c":3,"k":4,"s":"Li","r":0.46,"v":0.132},{"c":3,"k":4,"s":"Li","r":0.475,"v":0.147},{"c":3,"k":4,"s":"Li","r":0.5,"v":0.156},{"c":3,"k":4,"s":"Li","r":0.54,"v":0.16},{"c":3,"k":4,"s":"Li","r":0.709,"v":0.161},
{"c":3,"k":4,"s":"Deff","r":0.3,"v":-5.9},{"c":3,"k":4,"s":"Deff","r":0.305,"v":-6.5},{"c":3,"k":4,"s":"Deff","r":0.31,"v":-5.5},{"c":3,"k":4,"s":"Deff","r":0.32,"v":-6.2},{"c":3,"k":4,"s":"Deff","r":0.33,"v":-5.7},{"c":3,"k":4,"s":"Deff","r":0.34,"v":-6.5},{"c":3,"k":4,"s":"Deff","r":0.35,"v":-6.0},{"c":3,"k":4,"s":"Deff","r":0.36,"v":-6.6},{"c":3,"k":4,"s":"Deff","r":0.37,"v":-5.8},{"c":3,"k":4,"s":"Deff","r":0.38,"v":-6.4},{"c":3,"k":4,"s":"Deff","r":0.39,"v":-6.1},{"c":3,"k":4,"s":"Deff","r":0.4,"v":-6.8},{"c":3,"k":4,"s":"Deff","r":0.41,"v":-7.4},{"c":3,"k":4,"s":"Deff","r":0.445,"v":-7.4},{"c":3,"k":4,"s":"Deff","r":0.455,"v":-6.6},{"c":3,"k":4,"s":"Deff","r":0.465,"v":-5.6},{"c":3,"k":4,"s":"Deff","r":0.475,"v":-5.0},{"c":3,"k":4,"s":"Deff","r":0.485,"v":-4.6},{"c":3,"k":4,"s":"Deff","r":0.495,"v":-4.5},{"c":3,"k":4,"s":"Deff","r":0.505,"v":-3.6},{"c":3,"k":4,"s":"Deff","r":0.515,"v":-3.7},{"c":3,"k":4,"s":"Deff","r":0.525,"v":-2.9},{"c":3,"k":4,"s":"Deff","r":0.535,"v":-2.8},{"c":3,"k":4,"s":"Deff","r":0.545,"v":-2.2},{"c":3,"k":4,"s":"Deff","r":0.555,"v":-1.6},{"c":3,"k":4,"s":"Deff","r":0.565,"v":-0.9},{"c":3,"k":4,"s":"Deff","r":0.575,"v":-0.1},{"c":3,"k":4,"s":"Deff","r":0.576,"v":-8},
{"c":3,"k":4,"s":"Dv","r":0.3,"v":-4.4},{"c":3,"k":4,"s":"Dv","r":0.35,"v":-3.6},{"c":3,"k":4,"s":"Dv","r":0.4,"v":-2.8},{"c":3,"k":4,"s":"Dv","r":0.45,"v":-2.0},{"c":3,"k":4,"s":"Dv","r":0.5,"v":-1.2},{"c":3,"k":4,"s":"Dv","r":0.54,"v":-0.5},{"c":3,"k":4,"s":"Dv","r":0.555,"v":-0.3},{"c":3,"k":4,"s":"Dv","r":0.568,"v":-0.5},{"c":3,"k":4,"s":"Dv","r":0.576,"v":-1.3},
{"c":3,"k":4,"s":"DT6.28","r":0.3,"v":-1.25},{"c":3,"k":4,"s":"DT6.28","r":0.4,"v":0.8},{"c":3,"k":4,"s":"DT6.28","r":0.5,"v":2.8},{"c":3,"k":4,"s":"DT6.28","r":0.58,"v":4.3},{"c":3,"k":4,"s":"DT6.28","r":0.63,"v":5.4},{"c":3,"k":4,"s":"DT6.28","r":0.665,"v":6.6},{"c":3,"k":4,"s":"DT6.28","r":0.685,"v":8},{"c":3,"k":4,"s":"DT6.28","r":0.696,"v":10.3},{"c":3,"k":4,"s":"DT6.28","r":0.702,"v":13.3},{"c":3,"k":4,"s":"DT6.28","r":0.706,"v":17},{"c":3,"k":4,"s":"DT6.28","r":0.709,"v":23.5},
{"c":3,"k":4,"s":"DA","r":0.544,"v":-2.65},{"c":3,"k":4,"s":"DA","r":0.58,"v":12.4},
{"c":3,"k":4,"s":"lab","r":0.35,"v":15.9,"t":"Xᴄ=0.5X₀"},

{"c":4,"k":1,"s":"zone","r":0.736,"r2":0.877},{"c":4,"k":1,"s":"edge","r":0.736},{"c":4,"k":1,"s":"edge","r":0.877},
{"c":4,"k":1,"s":"He","r":0.3,"v":0.242},{"c":4,"k":1,"s":"He","r":0.37,"v":0.24},{"c":4,"k":1,"s":"He","r":0.43,"v":0.232},{"c":4,"k":1,"s":"He","r":0.49,"v":0.222},{"c":4,"k":1,"s":"He","r":0.54,"v":0.218},{"c":4,"k":1,"s":"He","r":0.877,"v":0.218},
{"c":4,"k":1,"s":"Li","r":0.3,"v":0},{"c":4,"k":1,"s":"Li","r":0.45,"v":0},{"c":4,"k":1,"s":"Li","r":0.47,"v":0.01},{"c":4,"k":1,"s":"Li","r":0.5,"v":0.028},{"c":4,"k":1,"s":"Li","r":0.53,"v":0.036},{"c":4,"k":1,"s":"Li","r":0.57,"v":0.039},{"c":4,"k":1,"s":"Li","r":0.877,"v":0.04},
{"c":4,"k":1,"s":"Deff","r":0.3,"v":-2.1},{"c":4,"k":1,"s":"Deff","r":0.33,"v":-2.0},{"c":4,"k":1,"s":"Deff","r":0.36,"v":-1.7},{"c":4,"k":1,"s":"Deff","r":0.4,"v":-1.5},{"c":4,"k":1,"s":"Deff","r":0.43,"v":-1.3},{"c":4,"k":1,"s":"Deff","r":0.47,"v":-1.0},{"c":4,"k":1,"s":"Deff","r":0.49,"v":-1.9},{"c":4,"k":1,"s":"Deff","r":0.51,"v":-1.6},{"c":4,"k":1,"s":"Deff","r":0.53,"v":-2.5},{"c":4,"k":1,"s":"Deff","r":0.536,"v":-3.5},{"c":4,"k":1,"s":"Deff","r":0.54,"v":-6.1},{"c":4,"k":1,"s":"Deff","r":0.544,"v":-3.5},{"c":4,"k":1,"s":"Deff","r":0.55,"v":-2.3},{"c":4,"k":1,"s":"Deff","r":0.57,"v":-1.3},{"c":4,"k":1,"s":"Deff","r":0.6,"v":-0.9},{"c":4,"k":1,"s":"Deff","r":0.63,"v":-1.0},{"c":4,"k":1,"s":"Deff","r":0.66,"v":-1.8},{"c":4,"k":1,"s":"Deff","r":0.672,"v":-2.6},{"c":4,"k":1,"s":"Deff","r":0.678,"v":-3.6},{"c":4,"k":1,"s":"Deff","r":0.684,"v":-2.6},{"c":4,"k":1,"s":"Deff","r":0.69,"v":-1.9},{"c":4,"k":1,"s":"Deff","r":0.71,"v":-0.9},{"c":4,"k":1,"s":"Deff","r":0.73,"v":-0.2},{"c":4,"k":1,"s":"Deff","r":0.7305,"v":-8},
{"c":4,"k":1,"s":"Dv","r":0.3,"v":0.6},{"c":4,"k":1,"s":"Dv","r":0.4,"v":1.3},{"c":4,"k":1,"s":"Dv","r":0.5,"v":1.85},{"c":4,"k":1,"s":"Dv","r":0.6,"v":2.3},{"c":4,"k":1,"s":"Dv","r":0.7,"v":2.6},{"c":4,"k":1,"s":"Dv","r":0.715,"v":2.5},{"c":4,"k":1,"s":"Dv","r":0.725,"v":1.9},{"c":4,"k":1,"s":"Dv","r":0.731,"v":0.1},
{"c":4,"k":1,"s":"DT6.28","r":0.3,"v":-1.5},{"c":4,"k":1,"s":"DT6.28","r":0.4,"v":0.3},{"c":4,"k":1,"s":"DT6.28","r":0.5,"v":2.1},{"c":4,"k":1,"s":"DT6.28","r":0.6,"v":3.9},{"c":4,"k":1,"s":"DT6.28","r":0.7,"v":5.5},{"c":4,"k":1,"s":"DT6.28","r":0.75,"v":6.6},{"c":4,"k":1,"s":"DT6.28","r":0.8,"v":7.8},{"c":4,"k":1,"s":"DT6.28","r":0.83,"v":9.2},{"c":4,"k":1,"s":"DT6.28","r":0.85,"v":11},{"c":4,"k":1,"s":"DT6.28","r":0.862,"v":13.5},{"c":4,"k":1,"s":"DT6.28","r":0.87,"v":17},{"c":4,"k":1,"s":"DT6.28","r":0.874,"v":20.5},{"c":4,"k":1,"s":"DT6.28","r":0.876,"v":24},
{"c":4,"k":1,"s":"DA","r":0.69,"v":-2.13},{"c":4,"k":1,"s":"DA","r":0.736,"v":12.7},
{"c":4,"k":1,"s":"lab","r":0.35,"v":15.9,"t":"Xᴄ=0.1X₀"},

{"c":4,"k":2,"s":"zone","r":0.737,"r2":0.877},{"c":4,"k":2,"s":"edge","r":0.737},{"c":4,"k":2,"s":"edge","r":0.877},
{"c":4,"k":2,"s":"He","r":0.3,"v":0.242},{"c":4,"k":2,"s":"He","r":0.36,"v":0.24},{"c":4,"k":2,"s":"He","r":0.42,"v":0.232},{"c":4,"k":2,"s":"He","r":0.47,"v":0.222},{"c":4,"k":2,"s":"He","r":0.51,"v":0.215},{"c":4,"k":2,"s":"He","r":0.54,"v":0.2125},{"c":4,"k":2,"s":"He","r":0.877,"v":0.2125},
{"c":4,"k":2,"s":"Li","r":0.3,"v":0},{"c":4,"k":2,"s":"Li","r":0.45,"v":0},{"c":4,"k":2,"s":"Li","r":0.46,"v":0.015},{"c":4,"k":2,"s":"Li","r":0.47,"v":0.045},{"c":4,"k":2,"s":"Li","r":0.48,"v":0.075},{"c":4,"k":2,"s":"Li","r":0.49,"v":0.09},{"c":4,"k":2,"s":"Li","r":0.51,"v":0.097},{"c":4,"k":2,"s":"Li","r":0.55,"v":0.1},{"c":4,"k":2,"s":"Li","r":0.877,"v":0.101},
{"c":4,"k":2,"s":"Deff","r":0.3,"v":-5.8},{"c":4,"k":2,"s":"Deff","r":0.31,"v":-6.3},{"c":4,"k":2,"s":"Deff","r":0.32,"v":-5.5},{"c":4,"k":2,"s":"Deff","r":0.33,"v":-6.2},{"c":4,"k":2,"s":"Deff","r":0.34,"v":-5.8},{"c":4,"k":2,"s":"Deff","r":0.35,"v":-6.5},{"c":4,"k":2,"s":"Deff","r":0.36,"v":-6.0},{"c":4,"k":2,"s":"Deff","r":0.37,"v":-6.6},{"c":4,"k":2,"s":"Deff","r":0.38,"v":-5.9},{"c":4,"k":2,"s":"Deff","r":0.39,"v":-6.4},{"c":4,"k":2,"s":"Deff","r":0.4,"v":-6.1},{"c":4,"k":2,"s":"Deff","r":0.41,"v":-6.8},{"c":4,"k":2,"s":"Deff","r":0.42,"v":-6.3},{"c":4,"k":2,"s":"Deff","r":0.43,"v":-6.9},{"c":4,"k":2,"s":"Deff","r":0.44,"v":-6.5},{"c":4,"k":2,"s":"Deff","r":0.45,"v":-7.1},{"c":4,"k":2,"s":"Deff","r":0.47,"v":-6.6},{"c":4,"k":2,"s":"Deff","r":0.49,"v":-6.9},{"c":4,"k":2,"s":"Deff","r":0.51,"v":-6.4},{"c":4,"k":2,"s":"Deff","r":0.53,"v":-6.8},{"c":4,"k":2,"s":"Deff","r":0.545,"v":-7.2},{"c":4,"k":2,"s":"Deff","r":0.555,"v":-5.0},{"c":4,"k":2,"s":"Deff","r":0.565,"v":-4.4},{"c":4,"k":2,"s":"Deff","r":0.58,"v":-3.9},{"c":4,"k":2,"s":"Deff","r":0.6,"v":-3.1},{"c":4,"k":2,"s":"Deff","r":0.62,"v":-2.5},{"c":4,"k":2,"s":"Deff","r":0.64,"v":-2.1},{"c":4,"k":2,"s":"Deff","r":0.66,"v":-1.7},{"c":4,"k":2,"s":"Deff","r":0.68,"v":-1.3},{"c":4,"k":2,"s":"Deff","r":0.7,"v":-0.9},{"c":4,"k":2,"s":"Deff","r":0.72,"v":-0.4},{"c":4,"k":2,"s":"Deff","r":0.73,"v":-0.1},{"c":4,"k":2,"s":"Deff","r":0.731,"v":-8},
{"c":4,"k":2,"s":"Dv","r":0.3,"v":-4.7},{"c":4,"k":2,"s":"Dv","r":0.4,"v":-3.5},{"c":4,"k":2,"s":"Dv","r":0.5,"v":-2.3},{"c":4,"k":2,"s":"Dv","r":0.6,"v":-1.1},{"c":4,"k":2,"s":"Dv","r":0.68,"v":-0.1},{"c":4,"k":2,"s":"Dv","r":0.7,"v":0.0},{"c":4,"k":2,"s":"Dv","r":0.715,"v":-0.2},{"c":4,"k":2,"s":"Dv","r":0.727,"v":-1.0},{"c":4,"k":2,"s":"Dv","r":0.731,"v":-1.6},
{"c":4,"k":2,"s":"DT6.28","r":0.3,"v":-1.4},{"c":4,"k":2,"s":"DT6.28","r":0.4,"v":0.6},{"c":4,"k":2,"s":"DT6.28","r":0.5,"v":2.5},{"c":4,"k":2,"s":"DT6.28","r":0.6,"v":4.0},{"c":4,"k":2,"s":"DT6.28","r":0.7,"v":5.6},{"c":4,"k":2,"s":"DT6.28","r":0.75,"v":6.7},{"c":4,"k":2,"s":"DT6.28","r":0.8,"v":7.9},{"c":4,"k":2,"s":"DT6.28","r":0.83,"v":9.2},{"c":4,"k":2,"s":"DT6.28","r":0.85,"v":11},{"c":4,"k":2,"s":"DT6.28","r":0.862,"v":13.5},{"c":4,"k":2,"s":"DT6.28","r":0.87,"v":17},{"c":4,"k":2,"s":"DT6.28","r":0.874,"v":20.5},{"c":4,"k":2,"s":"DT6.28","r":0.876,"v":24},
{"c":4,"k":2,"s":"DA","r":0.686,"v":-2.3},{"c":4,"k":2,"s":"DA","r":0.736,"v":12.7},
{"c":4,"k":2,"s":"lab","r":0.35,"v":15.9,"t":"Xᴄ=0.1X₀"},

{"c":4,"k":3,"s":"zone","r":0.737,"r2":0.877},{"c":4,"k":3,"s":"edge","r":0.737},{"c":4,"k":3,"s":"edge","r":0.877},
{"c":4,"k":3,"s":"He","r":0.3,"v":0.242},{"c":4,"k":3,"s":"He","r":0.36,"v":0.24},{"c":4,"k":3,"s":"He","r":0.42,"v":0.232},{"c":4,"k":3,"s":"He","r":0.47,"v":0.222},{"c":4,"k":3,"s":"He","r":0.5,"v":0.216},{"c":4,"k":3,"s":"He","r":0.52,"v":0.214},{"c":4,"k":3,"s":"He","r":0.877,"v":0.214},
{"c":4,"k":3,"s":"Li","r":0.3,"v":0},{"c":4,"k":3,"s":"Li","r":0.44,"v":0},{"c":4,"k":3,"s":"Li","r":0.45,"v":0.012},{"c":4,"k":3,"s":"Li","r":0.46,"v":0.03},{"c":4,"k":3,"s":"Li","r":0.47,"v":0.055},{"c":4,"k":3,"s":"Li","r":0.48,"v":0.078},{"c":4,"k":3,"s":"Li","r":0.49,"v":0.09},{"c":4,"k":3,"s":"Li","r":0.51,"v":0.097},{"c":4,"k":3,"s":"Li","r":0.55,"v":0.1},{"c":4,"k":3,"s":"Li","r":0.877,"v":0.101},
{"c":4,"k":3,"s":"Deff","r":0.3,"v":-5.6},{"c":4,"k":3,"s":"Deff","r":0.31,"v":-6.2},{"c":4,"k":3,"s":"Deff","r":0.315,"v":-5.5},{"c":4,"k":3,"s":"Deff","r":0.325,"v":-6.1},{"c":4,"k":3,"s":"Deff","r":0.335,"v":-5.4},{"c":4,"k":3,"s":"Deff","r":0.345,"v":-6.3},{"c":4,"k":3,"s":"Deff","r":0.355,"v":-5.8},{"c":4,"k":3,"s":"Deff","r":0.365,"v":-6.5},{"c":4,"k":3,"s":"Deff","r":0.375,"v":-6.0},{"c":4,"k":3,"s":"Deff","r":0.385,"v":-6.6},{"c":4,"k":3,"s":"Deff","r":0.395,"v":-6.2},{"c":4,"k":3,"s":"Deff","r":0.41,"v":-6.8},{"c":4,"k":3,"s":"Deff","r":0.425,"v":-6.4},{"c":4,"k":3,"s":"Deff","r":0.44,"v":-6.9},{"c":4,"k":3,"s":"Deff","r":0.455,"v":-6.3},{"c":4,"k":3,"s":"Deff","r":0.47,"v":-6.7},{"c":4,"k":3,"s":"Deff","r":0.485,"v":-6.2},{"c":4,"k":3,"s":"Deff","r":0.5,"v":-6.8},{"c":4,"k":3,"s":"Deff","r":0.515,"v":-6.4},{"c":4,"k":3,"s":"Deff","r":0.53,"v":-7.0},{"c":4,"k":3,"s":"Deff","r":0.545,"v":-7.3},{"c":4,"k":3,"s":"Deff","r":0.555,"v":-6.0},{"c":4,"k":3,"s":"Deff","r":0.565,"v":-5.0},{"c":4,"k":3,"s":"Deff","r":0.58,"v":-4.2},{"c":4,"k":3,"s":"Deff","r":0.6,"v":-3.4},{"c":4,"k":3,"s":"Deff","r":0.62,"v":-2.7},{"c":4,"k":3,"s":"Deff","r":0.64,"v":-2.3},{"c":4,"k":3,"s":"Deff","r":0.66,"v":-1.8},{"c":4,"k":3,"s":"Deff","r":0.68,"v":-1.3},{"c":4,"k":3,"s":"Deff","r":0.7,"v":-0.9},{"c":4,"k":3,"s":"Deff","r":0.72,"v":-0.4},{"c":4,"k":3,"s":"Deff","r":0.73,"v":-0.1},{"c":4,"k":3,"s":"Deff","r":0.731,"v":-8},
{"c":4,"k":3,"s":"Dv","r":0.3,"v":-4.7},{"c":4,"k":3,"s":"Dv","r":0.4,"v":-3.5},{"c":4,"k":3,"s":"Dv","r":0.5,"v":-2.3},{"c":4,"k":3,"s":"Dv","r":0.6,"v":-1.1},{"c":4,"k":3,"s":"Dv","r":0.68,"v":-0.1},{"c":4,"k":3,"s":"Dv","r":0.7,"v":0.0},{"c":4,"k":3,"s":"Dv","r":0.715,"v":-0.2},{"c":4,"k":3,"s":"Dv","r":0.727,"v":-1.0},{"c":4,"k":3,"s":"Dv","r":0.731,"v":-1.6},
{"c":4,"k":3,"s":"DT6.28","r":0.3,"v":-1.4},{"c":4,"k":3,"s":"DT6.28","r":0.4,"v":0.6},{"c":4,"k":3,"s":"DT6.28","r":0.5,"v":2.5},{"c":4,"k":3,"s":"DT6.28","r":0.6,"v":4.0},{"c":4,"k":3,"s":"DT6.28","r":0.7,"v":5.6},{"c":4,"k":3,"s":"DT6.28","r":0.75,"v":6.7},{"c":4,"k":3,"s":"DT6.28","r":0.8,"v":7.9},{"c":4,"k":3,"s":"DT6.28","r":0.83,"v":9.2},{"c":4,"k":3,"s":"DT6.28","r":0.85,"v":11},{"c":4,"k":3,"s":"DT6.28","r":0.862,"v":13.5},{"c":4,"k":3,"s":"DT6.28","r":0.87,"v":17},{"c":4,"k":3,"s":"DT6.28","r":0.874,"v":20.5},{"c":4,"k":3,"s":"DT6.28","r":0.876,"v":24},
{"c":4,"k":3,"s":"DA","r":0.685,"v":-2.3},{"c":4,"k":3,"s":"DA","r":0.733,"v":12.8},
{"c":4,"k":3,"s":"lab","r":0.35,"v":15.9,"t":"Xᴄ=0.1X₀"},

{"c":4,"k":4,"s":"zone","r":0.737,"r2":0.877},{"c":4,"k":4,"s":"edge","r":0.737},{"c":4,"k":4,"s":"edge","r":0.877},
{"c":4,"k":4,"s":"He","r":0.3,"v":0.242},{"c":4,"k":4,"s":"He","r":0.36,"v":0.24},{"c":4,"k":4,"s":"He","r":0.42,"v":0.232},{"c":4,"k":4,"s":"He","r":0.47,"v":0.222},{"c":4,"k":4,"s":"He","r":0.51,"v":0.216},{"c":4,"k":4,"s":"He","r":0.535,"v":0.214},{"c":4,"k":4,"s":"He","r":0.877,"v":0.214},
{"c":4,"k":4,"s":"Li","r":0.3,"v":0},{"c":4,"k":4,"s":"Li","r":0.445,"v":0},{"c":4,"k":4,"s":"Li","r":0.455,"v":0.012},{"c":4,"k":4,"s":"Li","r":0.465,"v":0.035},{"c":4,"k":4,"s":"Li","r":0.475,"v":0.06},{"c":4,"k":4,"s":"Li","r":0.485,"v":0.08},{"c":4,"k":4,"s":"Li","r":0.5,"v":0.092},{"c":4,"k":4,"s":"Li","r":0.525,"v":0.098},{"c":4,"k":4,"s":"Li","r":0.877,"v":0.1},
{"c":4,"k":4,"s":"Deff","r":0.3,"v":-5.5},{"c":4,"k":4,"s":"Deff","r":0.305,"v":-6.3},{"c":4,"k":4,"s":"Deff","r":0.31,"v":-5.6},{"c":4,"k":4,"s":"Deff","r":0.32,"v":-6.4},{"c":4,"k":4,"s":"Deff","r":0.33,"v":-5.8},{"c":4,"k":4,"s":"Deff","r":0.34,"v":-6.2},{"c":4,"k":4,"s":"Deff","r":0.35,"v":-5.5},{"c":4,"k":4,"s":"Deff","r":0.36,"v":-6.5},{"c":4,"k":4,"s":"Deff","r":0.37,"v":-6.0},{"c":4,"k":4,"s":"Deff","r":0.38,"v":-6.6},{"c":4,"k":4,"s":"Deff","r":0.39,"v":-6.1},{"c":4,"k":4,"s":"Deff","r":0.4,"v":-6.7},{"c":4,"k":4,"s":"Deff","r":0.41,"v":-6.2},{"c":4,"k":4,"s":"Deff","r":0.42,"v":-6.9},{"c":4,"k":4,"s":"Deff","r":0.435,"v":-6.4},{"c":4,"k":4,"s":"Deff","r":0.45,"v":-6.9},{"c":4,"k":4,"s":"Deff","r":0.465,"v":-6.4},{"c":4,"k":4,"s":"Deff","r":0.48,"v":-7.0},{"c":4,"k":4,"s":"Deff","r":0.495,"v":-6.5},{"c":4,"k":4,"s":"Deff","r":0.51,"v":-7.0},{"c":4,"k":4,"s":"Deff","r":0.525,"v":-6.6},{"c":4,"k":4,"s":"Deff","r":0.54,"v":-7.3},{"c":4,"k":4,"s":"Deff","r":0.55,"v":-6.0},{"c":4,"k":4,"s":"Deff","r":0.56,"v":-5.0},{"c":4,"k":4,"s":"Deff","r":0.575,"v":-4.4},{"c":4,"k":4,"s":"Deff","r":0.59,"v":-3.7},{"c":4,"k":4,"s":"Deff","r":0.61,"v":-3.0},{"c":4,"k":4,"s":"Deff","r":0.63,"v":-2.4},{"c":4,"k":4,"s":"Deff","r":0.65,"v":-1.9},{"c":4,"k":4,"s":"Deff","r":0.67,"v":-1.5},{"c":4,"k":4,"s":"Deff","r":0.69,"v":-1.0},{"c":4,"k":4,"s":"Deff","r":0.71,"v":-0.5},{"c":4,"k":4,"s":"Deff","r":0.73,"v":0.0},{"c":4,"k":4,"s":"Deff","r":0.731,"v":-8},
{"c":4,"k":4,"s":"Dv","r":0.3,"v":-4.5},{"c":4,"k":4,"s":"Dv","r":0.4,"v":-3.3},{"c":4,"k":4,"s":"Dv","r":0.5,"v":-2.1},{"c":4,"k":4,"s":"Dv","r":0.6,"v":-1.0},{"c":4,"k":4,"s":"Dv","r":0.68,"v":-0.2},{"c":4,"k":4,"s":"Dv","r":0.71,"v":0.0},{"c":4,"k":4,"s":"Dv","r":0.722,"v":-0.3},{"c":4,"k":4,"s":"Dv","r":0.731,"v":-1.3},
{"c":4,"k":4,"s":"DT6.28","r":0.3,"v":-1.35},{"c":4,"k":4,"s":"DT6.28","r":0.4,"v":0.5},{"c":4,"k":4,"s":"DT6.28","r":0.5,"v":2.3},{"c":4,"k":4,"s":"DT6.28","r":0.6,"v":3.9},{"c":4,"k":4,"s":"DT6.28","r":0.7,"v":5.3},{"c":4,"k":4,"s":"DT6.28","r":0.75,"v":6.3},{"c":4,"k":4,"s":"DT6.28","r":0.8,"v":7.5},{"c":4,"k":4,"s":"DT6.28","r":0.83,"v":8.8},{"c":4,"k":4,"s":"DT6.28","r":0.85,"v":10.3},{"c":4,"k":4,"s":"DT6.28","r":0.862,"v":12.8},{"c":4,"k":4,"s":"DT6.28","r":0.87,"v":16.5},{"c":4,"k":4,"s":"DT6.28","r":0.874,"v":20.5},{"c":4,"k":4,"s":"DT6.28","r":0.877,"v":24},
{"c":4,"k":4,"s":"DA","r":0.689,"v":-2.45},{"c":4,"k":4,"s":"DA","r":0.737,"v":12.64},
{"c":4,"k":4,"s":"lab","r":0.35,"v":15.9,"t":"Xᴄ=0.1X₀"}
]},
"spacing": 0,
"hconcat": [
{
 "transform": [{"filter": "datum.c == 1"}],
 "facet": {"row": {"field": "k", "type": "ordinal", "header": {"title": null, "labels": false}}},
 "spacing": 0,
 "bounds": "flush",
 "resolve": {"scale": {"y": "independent"}},
 "spec": {
  "width": 361, "height": 268,
  "resolve": {"scale": {"y": "independent"}},
  "layer": [
   {"transform": [{"filter": "datum.s == 'zone'"}], "mark": {"type": "rect", "color": "#fbe3f5"},
    "encoding": {"x": {"field": "r", "type": "quantitative", "scale": {"domain": [0, 0.9]},
       "axis": {"title": "r/R⊙", "values": [0,0.1,0.2,0.3,0.4,0.5,0.6,0.7,0.8,0.9], "labelExpr": "round(datum.value*10) % 2 == 0 ? format(datum.value, '.1f') : ''", "tickSize": -7, "labelPadding": 21, "labelFlush": false, "titlePadding": 6}},
     "x2": {"field": "r2"}}},
   {"transform": [{"filter": "datum.s == 'edge'"}], "mark": {"type": "rule", "color": "#f266c6", "strokeWidth": 1},
    "encoding": {"x": {"field": "r", "type": "quantitative", "scale": {"domain": [0, 0.9]}}}},
   {"transform": [{"filter": "indexof(['Deff','Dv','DT6.28','DA'], datum.s) >= 0"}], "mark": {"type": "line", "clip": true},
    "encoding": {"x": {"field": "r", "type": "quantitative", "scale": {"domain": [0, 0.9]}},
     "y": {"field": "v", "type": "quantitative", "scale": {"domain": [-7, 25]},
       "axis": {"title": "log(D_diff)", "values": [-7,-6,-5,-4,-3,-2,-1,0,1,2,3,4,5,6,7,8,9,10,11,12,13,14,15,16,17,18,19,20,21,22,23,24,25], "labelExpr": "datum.value % 5 == 0 && datum.value < 24 ? replace(datum.label, '\u2212', '-') : ''", "tickSize": -6, "labelPadding": 13, "titlePadding": 15}},
     "color": {"field": "s", "type": "nominal", "title": null, "scale": {"domain": ["Li","Deff","DT6.28","He","Dv","DA"], "range": ["#ff9900","#ff0000","#1aa51a","#000000","#1a6dff","#6a00c8"]},
       "legend": {"orient": "none", "legendX": 65, "legendY": 12, "columns": 3, "direction": "horizontal", "symbolType": "stroke", "symbolSize": 625, "labelFontSize": 22, "columnPadding": 22, "rowPadding": 0, "labelOffset": 5, "padding": 0,
         "encode": {"labels": {"update": {"fill": {"scale": "color", "field": "value"}}}}}},
     "strokeDash": {"field": "s", "type": "nominal", "title": null, "scale": {"domain": ["Li","Deff","DT6.28","He","Dv","DA"], "range": [[1,0],[1,0],[9,4,2,4],[1,0],[1,0],[9,4,2,4]]}},
     "strokeWidth": {"field": "s", "type": "nominal", "title": null, "scale": {"domain": ["Li","Deff","DT6.28","He","Dv","DA"], "range": [2,2.5,2,1,2.5,2]}}}},
   {"transform": [{"filter": "datum.s == 'Li' || datum.s == 'He'"}], "mark": {"type": "line", "clip": true},
    "encoding": {"x": {"field": "r", "type": "quantitative", "scale": {"domain": [0, 0.9]}},
     "y": {"field": "v", "type": "quantitative", "scale": {"domain": [0, 0.45]}, "axis": null},
     "color": {"field": "s", "type": "nominal", "title": null, "scale": {"domain": ["Li","Deff","DT6.28","He","Dv","DA"], "range": ["#ff9900","#ff0000","#1aa51a","#000000","#1a6dff","#6a00c8"]}},
     "strokeDash": {"field": "s", "type": "nominal", "title": null, "scale": {"domain": ["Li","Deff","DT6.28","He","Dv","DA"], "range": [[1,0],[1,0],[9,4,2,4],[1,0],[1,0],[9,4,2,4]]}},
     "strokeWidth": {"field": "s", "type": "nominal", "title": null, "scale": {"domain": ["Li","Deff","DT6.28","He","Dv","DA"], "range": [2,2.5,2,1,2.5,2]}}}},
   {"transform": [{"filter": "datum.s == 'lab'"}], "mark": {"type": "text", "align": "left", "baseline": "middle", "fontSize": 22},
    "encoding": {"x": {"field": "r", "type": "quantitative", "scale": {"domain": [0, 0.9]}},
     "y": {"field": "v", "type": "quantitative", "scale": {"domain": [-7, 25]}, "axis": null},
     "text": {"field": "t"}}},
   {"transform": [{"filter": "datum.s == 'sub'"}], "mark": {"type": "text", "align": "left", "baseline": "middle", "fontSize": 12},
    "encoding": {"x": {"field": "r", "type": "quantitative", "scale": {"domain": [0, 0.9]}},
     "y": {"field": "v", "type": "quantitative", "scale": {"domain": [-7, 25]}, "axis": null},
     "text": {"field": "t"}}}
  ]
 }
},
{
 "transform": [{"filter": "datum.c == 2"}],
 "facet": {"row": {"field": "k", "type": "ordinal", "header": {"title": null, "labels": false}}},
 "spacing": 0,
 "bounds": "flush",
 "resolve": {"scale": {"y": "independent"}},
 "spec": {
  "width": 288, "height": 268,
  "resolve": {"scale": {"y": "independent"}},
  "layer": [
   {"transform": [{"filter": "datum.s == 'zone'"}], "mark": {"type": "rect", "color": "#fbe3f5"},
    "encoding": {"x": {"field": "r", "type": "quantitative", "scale": {"domain": [0.3, 0.9]},
       "axis": {"title": "r/R⊙", "values": [0.3,0.35,0.4,0.45,0.5,0.55,0.6,0.65,0.7,0.75,0.8,0.85,0.9], "labelExpr": "round(datum.value*20) % 4 == 0 ? format(datum.value, '.1f') : ''", "tickSize": -7, "labelPadding": 21, "labelFlush": false, "titlePadding": 6}},
     "x2": {"field": "r2"}}},
   {"transform": [{"filter": "datum.s == 'edge'"}], "mark": {"type": "rule", "color": "#f266c6", "strokeWidth": 1},
    "encoding": {"x": {"field": "r", "type": "quantitative", "scale": {"domain": [0.3, 0.9]}}}},
   {"transform": [{"filter": "indexof(['Deff','Dv','DT6.28','DA'], datum.s) >= 0"}], "mark": {"type": "line", "clip": true},
    "encoding": {"x": {"field": "r", "type": "quantitative", "scale": {"domain": [0.3, 0.9]}},
     "y": {"field": "v", "type": "quantitative", "scale": {"domain": [-7, 25]}, "axis": null},
     "color": {"field": "s", "type": "nominal", "title": null, "scale": {"domain": ["Li","Deff","DT6.28","He","Dv","DA"], "range": ["#ff9900","#ff0000","#1aa51a","#000000","#1a6dff","#6a00c8"]}},
     "strokeDash": {"field": "s", "type": "nominal", "title": null, "scale": {"domain": ["Li","Deff","DT6.28","He","Dv","DA"], "range": [[1,0],[1,0],[9,4,2,4],[1,0],[1,0],[9,4,2,4]]}},
     "strokeWidth": {"field": "s", "type": "nominal", "title": null, "scale": {"domain": ["Li","Deff","DT6.28","He","Dv","DA"], "range": [2,2.5,2,1,2.5,2]}}}},
   {"transform": [{"filter": "datum.s == 'Li' || datum.s == 'He'"}], "mark": {"type": "line", "clip": true},
    "encoding": {"x": {"field": "r", "type": "quantitative", "scale": {"domain": [0.3, 0.9]}},
     "y": {"field": "v", "type": "quantitative", "scale": {"domain": [0, 0.45]}, "axis": null},
     "color": {"field": "s", "type": "nominal", "title": null, "scale": {"domain": ["Li","Deff","DT6.28","He","Dv","DA"], "range": ["#ff9900","#ff0000","#1aa51a","#000000","#1a6dff","#6a00c8"]}},
     "strokeDash": {"field": "s", "type": "nominal", "title": null, "scale": {"domain": ["Li","Deff","DT6.28","He","Dv","DA"], "range": [[1,0],[1,0],[9,4,2,4],[1,0],[1,0],[9,4,2,4]]}},
     "strokeWidth": {"field": "s", "type": "nominal", "title": null, "scale": {"domain": ["Li","Deff","DT6.28","He","Dv","DA"], "range": [2,2.5,2,1,2.5,2]}}}},
   {"transform": [{"filter": "datum.s == 'lab'"}], "mark": {"type": "text", "align": "left", "baseline": "middle", "fontSize": 22},
    "encoding": {"x": {"field": "r", "type": "quantitative", "scale": {"domain": [0.3, 0.9]}},
     "y": {"field": "v", "type": "quantitative", "scale": {"domain": [-7, 25]}, "axis": null},
     "text": {"field": "t"}}}
  ]
 }
},
{
 "transform": [{"filter": "datum.c == 3"}],
 "facet": {"row": {"field": "k", "type": "ordinal", "header": {"title": null, "labels": false}}},
 "spacing": 0,
 "bounds": "flush",
 "resolve": {"scale": {"y": "independent"}},
 "spec": {
  "width": 287, "height": 268,
  "resolve": {"scale": {"y": "independent"}},
  "layer": [
   {"transform": [{"filter": "datum.s == 'zone'"}], "mark": {"type": "rect", "color": "#fbe3f5"},
    "encoding": {"x": {"field": "r", "type": "quantitative", "scale": {"domain": [0.3, 0.9]},
       "axis": {"title": "r/R⊙", "values": [0.3,0.35,0.4,0.45,0.5,0.55,0.6,0.65,0.7,0.75,0.8,0.85,0.9], "labelExpr": "round(datum.value*20) % 4 == 0 ? format(datum.value, '.1f') : ''", "tickSize": -7, "labelPadding": 21, "labelFlush": false, "titlePadding": 6}},
     "x2": {"field": "r2"}}},
   {"transform": [{"filter": "datum.s == 'edge'"}], "mark": {"type": "rule", "color": "#f266c6", "strokeWidth": 1},
    "encoding": {"x": {"field": "r", "type": "quantitative", "scale": {"domain": [0.3, 0.9]}}}},
   {"transform": [{"filter": "indexof(['Deff','Dv','DT6.28','DA'], datum.s) >= 0"}], "mark": {"type": "line", "clip": true},
    "encoding": {"x": {"field": "r", "type": "quantitative", "scale": {"domain": [0.3, 0.9]}},
     "y": {"field": "v", "type": "quantitative", "scale": {"domain": [-7, 25]}, "axis": null},
     "color": {"field": "s", "type": "nominal", "title": null, "scale": {"domain": ["Li","Deff","DT6.28","He","Dv","DA"], "range": ["#ff9900","#ff0000","#1aa51a","#000000","#1a6dff","#6a00c8"]}},
     "strokeDash": {"field": "s", "type": "nominal", "title": null, "scale": {"domain": ["Li","Deff","DT6.28","He","Dv","DA"], "range": [[1,0],[1,0],[9,4,2,4],[1,0],[1,0],[9,4,2,4]]}},
     "strokeWidth": {"field": "s", "type": "nominal", "title": null, "scale": {"domain": ["Li","Deff","DT6.28","He","Dv","DA"], "range": [2,2.5,2,1,2.5,2]}}}},
   {"transform": [{"filter": "datum.s == 'Li' || datum.s == 'He'"}], "mark": {"type": "line", "clip": true},
    "encoding": {"x": {"field": "r", "type": "quantitative", "scale": {"domain": [0.3, 0.9]}},
     "y": {"field": "v", "type": "quantitative", "scale": {"domain": [0, 0.45]}, "axis": null},
     "color": {"field": "s", "type": "nominal", "title": null, "scale": {"domain": ["Li","Deff","DT6.28","He","Dv","DA"], "range": ["#ff9900","#ff0000","#1aa51a","#000000","#1a6dff","#6a00c8"]}},
     "strokeDash": {"field": "s", "type": "nominal", "title": null, "scale": {"domain": ["Li","Deff","DT6.28","He","Dv","DA"], "range": [[1,0],[1,0],[9,4,2,4],[1,0],[1,0],[9,4,2,4]]}},
     "strokeWidth": {"field": "s", "type": "nominal", "title": null, "scale": {"domain": ["Li","Deff","DT6.28","He","Dv","DA"], "range": [2,2.5,2,1,2.5,2]}}}},
   {"transform": [{"filter": "datum.s == 'lab'"}], "mark": {"type": "text", "align": "left", "baseline": "middle", "fontSize": 22},
    "encoding": {"x": {"field": "r", "type": "quantitative", "scale": {"domain": [0.3, 0.9]}},
     "y": {"field": "v", "type": "quantitative", "scale": {"domain": [-7, 25]}, "axis": null},
     "text": {"field": "t"}}}
  ]
 }
},
{
 "transform": [{"filter": "datum.c == 4"}],
 "facet": {"row": {"field": "k", "type": "ordinal", "header": {"title": null, "labels": false}}},
 "spacing": 0,
 "bounds": "flush",
 "resolve": {"scale": {"y": "independent"}},
 "spec": {
  "width": 288, "height": 268,
  "resolve": {"scale": {"y": "independent"}},
  "layer": [
   {"transform": [{"filter": "datum.s == 'zone'"}], "mark": {"type": "rect", "color": "#fbe3f5"},
    "encoding": {"x": {"field": "r", "type": "quantitative", "scale": {"domain": [0.3, 0.9]},
       "axis": {"title": "r/R⊙", "values": [0.3,0.35,0.4,0.45,0.5,0.55,0.6,0.65,0.7,0.75,0.8,0.85,0.9], "labelExpr": "round(datum.value*20) % 4 == 0 ? format(datum.value, '.1f') : ''", "tickSize": -7, "labelPadding": 21, "labelFlush": false, "titlePadding": 6}},
     "x2": {"field": "r2"}}},
   {"transform": [{"filter": "datum.s == 'edge'"}], "mark": {"type": "rule", "color": "#f266c6", "strokeWidth": 1},
    "encoding": {"x": {"field": "r", "type": "quantitative", "scale": {"domain": [0.3, 0.9]}}}},
   {"transform": [{"filter": "indexof(['Deff','Dv','DT6.28','DA'], datum.s) >= 0"}], "mark": {"type": "line", "clip": true},
    "encoding": {"x": {"field": "r", "type": "quantitative", "scale": {"domain": [0.3, 0.9]}},
     "y": {"field": "v", "type": "quantitative", "scale": {"domain": [-7, 25]}, "axis": null},
     "color": {"field": "s", "type": "nominal", "title": null, "scale": {"domain": ["Li","Deff","DT6.28","He","Dv","DA"], "range": ["#ff9900","#ff0000","#1aa51a","#000000","#1a6dff","#6a00c8"]}},
     "strokeDash": {"field": "s", "type": "nominal", "title": null, "scale": {"domain": ["Li","Deff","DT6.28","He","Dv","DA"], "range": [[1,0],[1,0],[9,4,2,4],[1,0],[1,0],[9,4,2,4]]}},
     "strokeWidth": {"field": "s", "type": "nominal", "title": null, "scale": {"domain": ["Li","Deff","DT6.28","He","Dv","DA"], "range": [2,2.5,2,1,2.5,2]}}}},
   {"transform": [{"filter": "datum.s == 'Li' || datum.s == 'He'"}], "mark": {"type": "line", "clip": true},
    "encoding": {"x": {"field": "r", "type": "quantitative", "scale": {"domain": [0.3, 0.9]}},
     "y": {"field": "v", "type": "quantitative", "scale": {"domain": [0, 0.45]},
       "axis": {"orient": "right", "title": "Y(Li)×10⁸, Y(He)", "values": [0,0.05,0.1,0.15,0.2,0.25,0.3,0.35,0.4,0.45], "labelExpr": "round(datum.value*20) % 2 == 0 && datum.value < 0.44 ? format(datum.value, '.1f') : ''", "tickSize": -6, "labelPadding": 14, "labelFlush": true, "titleAngle": 270, "titleBaseline": "top", "titlePadding": 4}},
     "color": {"field": "s", "type": "nominal", "title": null, "scale": {"domain": ["Li","Deff","DT6.28","He","Dv","DA"], "range": ["#ff9900","#ff0000","#1aa51a","#000000","#1a6dff","#6a00c8"]}},
     "strokeDash": {"field": "s", "type": "nominal", "title": null, "scale": {"domain": ["Li","Deff","DT6.28","He","Dv","DA"], "range": [[1,0],[1,0],[9,4,2,4],[1,0],[1,0],[9,4,2,4]]}},
     "strokeWidth": {"field": "s", "type": "nominal", "title": null, "scale": {"domain": ["Li","Deff","DT6.28","He","Dv","DA"], "range": [2,2.5,2,1,2.5,2]}}}},
   {"transform": [{"filter": "datum.s == 'lab'"}], "mark": {"type": "text", "align": "left", "baseline": "middle", "fontSize": 22},
    "encoding": {"x": {"field": "r", "type": "quantitative", "scale": {"domain": [0.3, 0.9]}},
     "y": {"field": "v", "type": "quantitative", "scale": {"domain": [-7, 25]}, "axis": null},
     "text": {"field": "t"}}}
  ]
 }
}
]
}
